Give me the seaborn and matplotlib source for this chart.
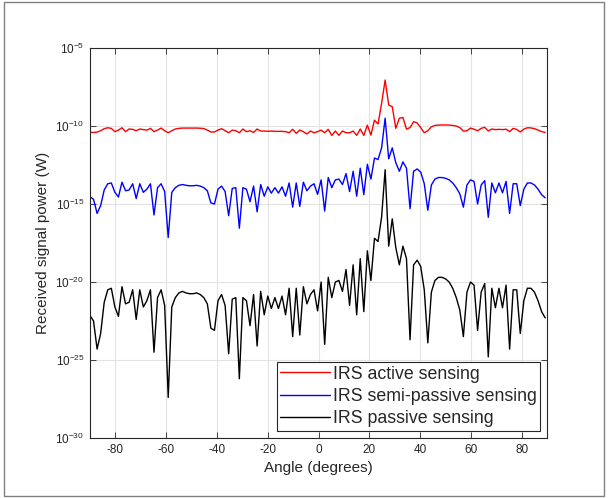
import numpy as np
import pandas as pd
import matplotlib
matplotlib.use("Agg")
import matplotlib.pyplot as plt
import seaborn as sns

# angle grid (degrees)
angles = -90 + 1.4 * np.arange(129)

# received power as log10(W)
active_log = [
    -10.41, -10.41, -10.39, -10.30, -10.17, -10.11, -10.15, -10.36, -10.26, -10.11,
    -10.36, -10.19, -10.21, -10.30, -10.19, -10.23, -10.26, -10.15, -10.36, -10.26,
    -10.13, -10.30, -10.43, -10.30, -10.19, -10.15, -10.13, -10.13, -10.13, -10.13,
    -10.13, -10.14, -10.16, -10.26, -10.38, -10.38, -10.26, -10.17, -10.30, -10.43,
    -10.26, -10.30, -10.43, -10.19, -10.36, -10.30, -10.41, -10.19, -10.32, -10.32,
    -10.34, -10.32, -10.34, -10.34, -10.34, -10.36, -10.43, -10.21, -10.47, -10.26,
    -10.36, -10.51, -10.32, -10.43, -10.36, -10.26, -10.43, -10.21, -10.60, -10.32,
    -10.60, -10.32, -10.43, -10.43, -10.32, -10.60, -10.19, -10.60, -9.94, -10.58,
    -9.62, -9.87, -8.55, -7.05, -8.65, -8.76, -10.15, -9.50, -9.45, -10.20,
    -10.10, -9.72, -9.80, -10.10, -10.43, -10.30, -10.05, -9.96, -9.94, -9.93,
    -9.93, -9.94, -9.96, -10.00, -10.10, -10.32, -10.30, -10.13, -10.20, -10.30,
    -10.15, -10.08, -10.32, -10.19, -10.23, -10.21, -10.23, -10.20, -10.36, -10.15,
    -10.22, -10.38, -10.20, -10.11, -10.12, -10.17, -10.26, -10.36, -10.41,
]
semi_log = [
    -14.53, -14.70, -15.60, -15.10, -14.10, -13.70, -13.65, -14.25, -14.55, -13.60,
    -14.15, -14.10, -13.70, -14.65, -13.70, -14.25, -14.05, -13.70, -15.70, -13.95,
    -13.70, -14.20, -17.15, -14.25, -13.95, -13.80, -13.75, -13.80, -13.83, -13.83,
    -13.80, -13.85, -13.95, -14.15, -14.93, -15.00, -14.05, -13.85, -14.20, -15.75,
    -14.00, -13.95, -16.55, -13.95, -14.05, -14.85, -13.85, -15.50, -13.75, -14.50,
    -13.90, -14.30, -13.95, -14.30, -13.90, -14.50, -13.65, -15.20, -13.65, -15.15,
    -13.60, -14.15, -13.85, -13.70, -14.38, -13.45, -15.45, -13.30, -13.95, -13.45,
    -13.40, -13.75, -13.05, -14.20, -12.90, -14.50, -12.70, -14.40, -12.45, -13.40,
    -12.05, -12.15, -11.40, -9.50, -12.10, -11.40, -12.35, -12.90, -12.30, -12.70,
    -15.30, -12.90, -12.75, -12.95, -13.70, -15.40, -13.78, -13.40, -13.30, -13.30,
    -13.35, -13.45, -13.65, -13.95, -14.35, -15.20, -13.78, -13.45, -13.55, -15.00,
    -13.78, -13.50, -15.85, -13.65, -14.28, -13.65, -14.28, -13.55, -15.60, -13.70,
    -13.70, -15.10, -14.05, -13.65, -13.65, -13.78, -14.05, -14.40, -14.60,
]
passive_log = [
    -22.15, -22.50, -24.30, -23.30, -21.30, -20.50, -20.40, -21.60, -22.20, -20.30,
    -21.40, -21.30, -20.50, -22.40, -20.50, -21.60, -21.20, -20.50, -24.50, -21.00,
    -20.50, -21.50, -27.40, -21.60, -21.00, -20.70, -20.60, -20.70, -20.75, -20.75,
    -20.70, -20.80, -21.00, -21.40, -22.96, -23.10, -21.20, -20.80, -21.50, -24.60,
    -21.10, -21.00, -26.20, -21.00, -21.20, -22.80, -20.80, -24.10, -20.60, -22.10,
    -20.90, -21.70, -21.00, -21.70, -20.90, -22.10, -20.40, -23.50, -20.40, -23.40,
    -20.30, -21.40, -20.80, -20.50, -21.85, -20.00, -24.00, -19.70, -21.00, -20.00,
    -19.90, -20.60, -19.20, -21.50, -18.90, -22.10, -18.50, -21.90, -18.00, -19.90,
    -17.20, -17.40, -15.85, -12.80, -17.70, -15.95, -17.80, -18.90, -17.70, -18.50,
    -23.70, -18.90, -18.60, -19.00, -20.50, -23.90, -20.65, -19.90, -19.70, -19.70,
    -19.80, -20.00, -20.40, -21.00, -21.80, -23.50, -20.65, -20.00, -20.20, -23.10,
    -20.65, -20.10, -24.80, -20.40, -21.65, -20.40, -21.65, -20.20, -24.30, -20.50,
    -20.50, -23.30, -21.20, -20.40, -20.40, -20.65, -21.20, -21.90, -22.30,
]

series_names = ["IRS active sensing", "IRS semi-passive sensing", "IRS passive sensing"]
series_colors = ["#ff0000", "#0000ff", "#000000"]

df = pd.concat([
    pd.DataFrame({"angle": angles, "power": 10.0 ** np.array(vals), "series": name})
    for name, vals in zip(series_names, [active_log, semi_log, passive_log])
])

sns.set_style("ticks")
plt.rcParams["font.family"] = ["Liberation Sans", "DejaVu Sans"]
plt.rcParams["mathtext.fontset"] = "custom"
plt.rcParams["mathtext.rm"] = "Liberation Sans"
plt.rcParams["mathtext.it"] = "Liberation Sans:italic"
plt.rcParams["axes.unicode_minus"] = False

fig = plt.figure(figsize=(6.08, 4.98), dpi=100)
ax = fig.add_axes([0.148, 0.1205, 0.752, 0.783])

sns.lineplot(data=df, x="angle", y="power", hue="series", hue_order=series_names,
             palette=series_colors, linewidth=1.0, ax=ax, estimator=None, sort=False)

ax.set_yscale("log")
ax.set_xlim(-90, 90)
ax.set_ylim(1e-30, 1e-5)
ax.set_xticks(np.arange(-80, 81, 20))
ax.set_yticks([10.0 ** e for e in range(-30, -4, 5)])
ax.yaxis.set_minor_locator(matplotlib.ticker.NullLocator())
ax.grid(True, color="#e3e3e3", linewidth=0.8)
ax.set_axisbelow(True)
ax.tick_params(direction="in", top=True, right=True, length=4, width=0.6,
               labelsize=8.5, colors="#262626", pad=4)
for s in ax.spines.values():
    s.set_color("#262626")
    s.set_linewidth(0.8)

ax.set_xlabel("Angle (degrees)", fontsize=11, color="#262626")
ax.set_ylabel("Received signal power (W)", fontsize=11, color="#262626")

leg = ax.legend(loc="lower right", fontsize=12.8, frameon=True, fancybox=False,
                edgecolor="#262626", framealpha=1, borderaxespad=0.4,
                handlelength=2.8, handletextpad=0.15, labelspacing=0.3,
                borderpad=0.2, title=None)
leg.get_frame().set_linewidth(0.8)

# thin frame around the whole figure
fig.patches.append(matplotlib.patches.Rectangle((0.006, 0.004), 0.988, 0.992,
                   transform=fig.transFigure, fill=False, edgecolor="#808080",
                   linewidth=1.0))

fig.savefig("out.png", dpi=100)
